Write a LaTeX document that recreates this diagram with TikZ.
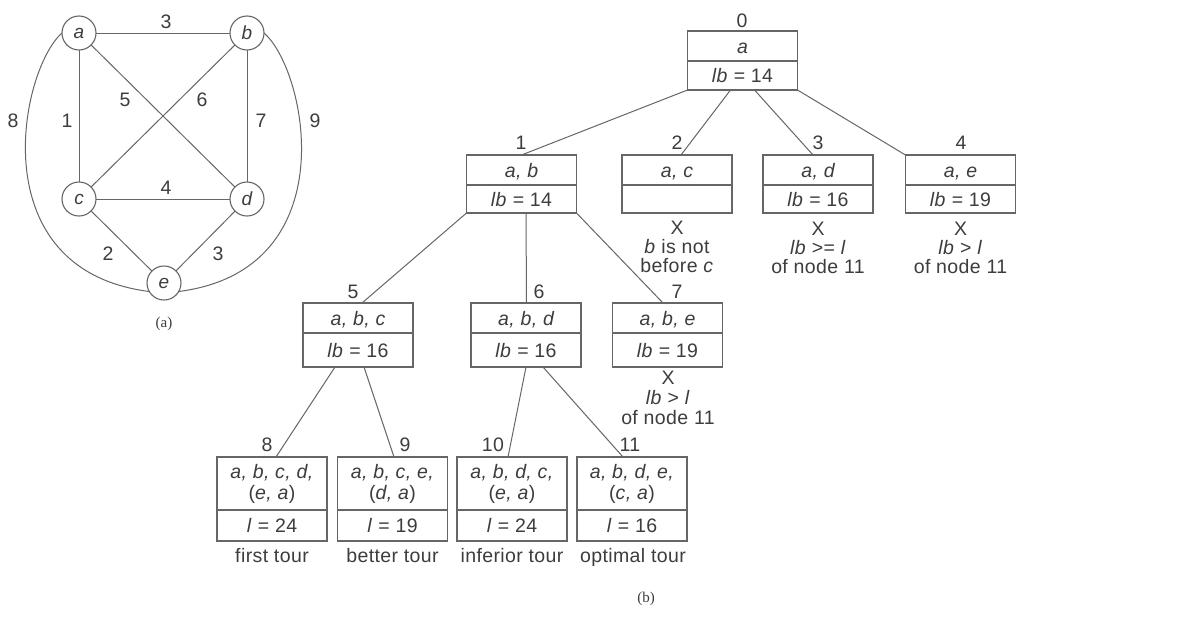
\documentclass[tikz,border=0pt]{standalone}
\usepackage{fontspec}
\setmainfont{Liberation Sans}[LetterSpace=2.0]
\newfontfamily\capfont{Liberation Serif}
\usetikzlibrary{calc}
\definecolor{linec}{gray}{0.40}
\definecolor{txtc}{gray}{0.24}
\newcommand\tbox[7]{%
  \node[box, minimum height={(#5-#3)*1pt}] (#1) at (#2,{(#3+#5)/2}) {};
  \draw[divl] (#2-55,#4) -- (#2+55,#4);
  \node[lbl] (#1t) at (#2,{(#3+#4)/2}) {#6};
  \node[lbl] (#1b) at (#2,{(#4+#5)/2}) {#7};
}
\newcommand\tboxB[7]{%
  \node[box, minimum height={(#5-#3)*1pt}] (#1) at (#2,{(#3+#5)/2}) {};
  \draw[divl] (#2-55,#4) -- (#2+55,#4);
  \node[mlbl, font=\fontsize{19.5}{21}\selectfont] (#1t) at (#2,{(#3+#4)/2}) {#6};
  \node[lbl] (#1b) at (#2,{(#4+#5)/2}) {#7};
}
\begin{document}
\begin{tikzpicture}[x=1pt,y=-1pt,
  lbl/.style={font=\fontsize{19.5}{19}\selectfont, text=txtc, inner sep=0pt, text height=16pt, text depth=2pt},
  mlbl/.style={text=txtc, inner sep=0pt, align=center},
  note/.style={font=\fontsize{19.5}{19}\selectfont, text=txtc, inner sep=0pt, align=center},
  box/.style={draw=linec, line width=1.3pt, minimum width=110pt, inner sep=0pt, outer sep=0pt},
  divl/.style={draw=linec, line width=1.3pt},
  edge/.style={draw=linec, line width=1pt},
  vtx/.style={circle, draw=linec, line width=1.1pt, minimum size=34pt, inner sep=0pt, outer sep=0pt,
              font=\fontsize{19}{19}\selectfont\itshape, text=txtc},
  figcap/.style={font=\capfont\fontsize{15}{15}\selectfont, text=txtc, inner sep=0pt}]
\useasboundingbox (0,0) rectangle (1198,635);
\fill[white] (0,0) rectangle (1198,635);

% ---------- (a) graph ----------
\node[vtx] (a) at (79,33) {a};
\node[vtx] (b) at (247,33) {b};
\node[vtx] (c) at (79,199) {c};
\node[vtx] (d) at (247,199) {d};
\node[vtx] (e) at (164,283) {e};
\draw[edge] (a) -- (b);
\draw[edge] (a) -- (c);
\draw[edge] (a) -- (d);
\draw[edge] (b) -- (c);
\draw[edge] (b) -- (d);
\draw[edge] (c) -- (d);
\draw[edge] (c) -- (e);
\draw[edge] (d) -- (e);
\draw[edge] (a.west) .. controls (20,70) and (-20,270) .. (e.210);
\draw[edge] (b.east) .. controls (307,70) and (347,270) .. (e.330);
\node[lbl] (wab) at (166,21) {3};
\node[lbl] (wac) at (67,120) {1};
\node[lbl] (wad) at (125,99) {5};
\node[lbl] (wbc) at (202,99) {6};
\node[lbl] (wbd) at (261,120) {7};
\node[lbl] (wae) at (13,120) {8};
\node[lbl] (wbe) at (315,120) {9};
\node[lbl] (wcd) at (166,187) {4};
\node[lbl] (wce) at (108,253) {2};
\node[lbl] (wde) at (218,253) {3};
\node[figcap] (capa) at (164,324) {(a)};

% ---------- (b) tree ----------
\tbox{n0}{742.5}{31}{61}{90}{\itshape a}{\textit{lb} = 14}
\tbox{n1}{521.5}{155}{185}{213}{\itshape a, b}{\textit{lb} = 14}
\tbox{n2}{677}{155}{185}{213}{\itshape a, c}{}
\tbox{n3}{818}{155}{185}{213}{\itshape a, d}{\textit{lb} = 16}
\tbox{n4}{960.5}{155}{185}{213}{\itshape a, e}{\textit{lb} = 19}
\tbox{n5}{358}{303}{333}{367}{\itshape a, b, c}{\textit{lb} = 16}
\tbox{n6}{526}{303}{333}{367}{\itshape a, b, d}{\textit{lb} = 16}
\tbox{n7}{667.5}{303}{333}{367}{\itshape a, b, e}{\textit{lb} = 19}
\tboxB{n8}{272}{457}{510}{541}{\textit{a, b, c, d,}\\(\textit{e, a})}{\textit{l} = 24}
\tboxB{n9}{392.5}{457}{510}{541}{\textit{a, b, c, e,}\\(\textit{d, a})}{\textit{l} = 19}
\tboxB{n10}{512}{457}{510}{541}{\textit{a, b, d, c,}\\(\textit{e, a})}{\textit{l} = 24}
\tboxB{n11}{632}{457}{510}{541}{\textit{a, b, d, e,}\\(\textit{c, a})}{\textit{l} = 16}

% node numbers
\node[lbl] (k0) at (742,20) {0};
\node[lbl] (k1) at (521,142) {1};
\node[lbl] (k2) at (677,142) {2};
\node[lbl] (k3) at (818,142) {3};
\node[lbl] (k4) at (961,142) {4};
\node[lbl] (k5) at (353,291) {5};
\node[lbl] (k6) at (539,291) {6};
\node[lbl] (k7) at (677,291) {7};
\node[lbl] (k8) at (267,444) {8};
\node[lbl] (k9) at (405,444) {9};
\node[lbl] (k10) at (493,444) {10};
\node[lbl] (k11) at (630,444) {11};

% tree edges
\draw[edge] (n0.south west) -- (n1.north);
\draw[edge] ($(n0.south)+(-12,0)$) -- ($(n2.north)+(4,0)$);
\draw[edge] ($(n0.south)+(12,0)$) -- ($(n3.north)+(-5,0)$);
\draw[edge] (n0.south east) -- (n4.north west);
\draw[edge] (n1.south west) -- ($(n5.north)+(4,0)$);
\draw[edge] ($(n1.south)+(4.5,0)$) -- ($(n6.north)+(0.5,0)$);
\draw[edge] (n1.south east) -- ($(n7.north)+(-4.5,0)$);
\draw[edge] ($(n5.south)+(-23,0)$) -- ($(n8.north)+(4,0)$);
\draw[edge] ($(n5.south)+(6,0)$) -- ($(n9.north)+(1.5,0)$);
\draw[edge] (n6.south) -- ($(n10.north)+(-4,0)$);
\draw[edge] ($(n6.south)+(17,0)$) -- ($(n11.north)+(-9,0)$);

% pruning notes
\node[note] (x2) at (677,247) {X\\\textit{b} is not\\before \textit{c}};
\node[note] (x3) at (818,248) {X\\\textit{lb} >= \textit{l}\\of node 11};
\node[note] (x4) at (960.5,248) {X\\\textit{lb} > \textit{l}\\of node 11};
\node[note, font=\fontsize{19.5}{20}\selectfont] (x7) at (668,398) {X\\\textit{lb} > \textit{l}\\of node 11};

% tour captions
\node[lbl] (c8) at (272,555) {first tour};
\node[lbl] (c9) at (392.5,555) {better tour};
\node[lbl] (c10) at (512,555) {inferior tour};
\node[lbl] (c11) at (633,555) {optimal tour};
\node[figcap] (capb) at (646,599) {(b)};
\end{tikzpicture}
\end{document}
